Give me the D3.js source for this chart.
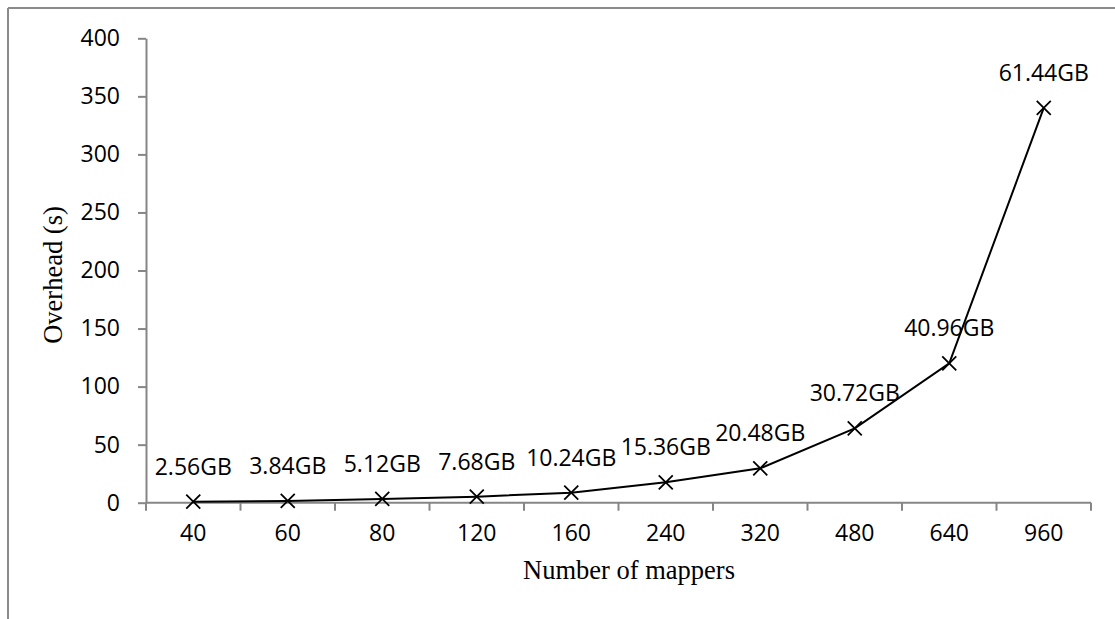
<!DOCTYPE html>
<html>
<head>
<meta charset="utf-8">
<script src="https://cdn.jsdelivr.net/npm/d3@7"></script>
<style>
  body { margin: 0; background: #fff; }
</style>
</head>
<body>
<svg id="chart"></svg>
<script>
const width = 1115;
const height = 619;

// Data
const mappers = ["40", "60", "80", "120", "160", "240", "320", "480", "640", "960"];
const overhead = [0.9, 1.5, 3.2, 5.2, 8.6, 17.6, 29.6, 64, 120, 340];
const dataSize = ["2.56GB", "3.84GB", "5.12GB", "7.68GB", "10.24GB", "15.36GB", "20.48GB", "30.72GB", "40.96GB", "61.44GB"];
const yTicks = [0, 50, 100, 150, 200, 250, 300, 350, 400];

const plot = {left: 146, right: 1091, top: 38.3, bottom: 502.7};
const axisColor = "#868686";
const tickFont = "'Open Sans', sans-serif";
const titleFont = "'Liberation Serif', 'Times New Roman', serif";
const fontSize = "23px";

let svg = d3.select("#chart")
    .attr("width", width)
    .attr("height", height);

// outer frame (only top and left edges show in the picture)
svg.append("line")
    .attr("x1", 8).attr("y1", 8).attr("x2", width).attr("y2", 8)
    .style("stroke", "#8a8a8a").style("stroke-width", 2);
svg.append("line")
    .attr("x1", 8).attr("y1", 8).attr("x2", 8).attr("y2", height)
    .style("stroke", "#8a8a8a").style("stroke-width", 2);

let x = d3.scaleBand()
    .domain(mappers)
    .range([plot.left, plot.right])
    .padding(0);

let y = d3.scaleLinear()
    .domain([0, 400])
    .range([plot.bottom, plot.top]);

// y axis
let yAxis = svg.append("g")
    .attr("transform", `translate(${plot.left},0)`)
    .call(d3.axisLeft(y).tickValues(yTicks).tickSize(8).tickPadding(18).tickSizeOuter(0));
yAxis.select(".domain").style("stroke", axisColor).style("stroke-width", 2);
yAxis.selectAll(".tick line").style("stroke", axisColor).style("stroke-width", 2);
yAxis.selectAll(".tick text")
    .style("font-family", tickFont).style("font-size", fontSize).style("fill", "#000");

// x axis: labels at band centres, ticks at band edges (category style)
let xAxis = svg.append("g")
    .attr("transform", `translate(0,${plot.bottom})`)
    .call(d3.axisBottom(x).tickSize(0).tickPadding(22).tickSizeOuter(0));
xAxis.select(".domain").remove();
xAxis.selectAll(".tick text")
    .style("font-family", tickFont).style("font-size", fontSize).style("fill", "#000");

let edges = mappers.map(d => x(d)).concat([x(mappers[mappers.length - 1]) + x.bandwidth()]);
xAxis.selectAll(".edge")
    .data(edges)
    .enter().append("line")
    .attr("x1", d => d).attr("x2", d => d)
    .attr("y1", 0).attr("y2", 8)
    .style("stroke", axisColor).style("stroke-width", 2);
xAxis.append("line")
    .attr("x1", plot.left).attr("x2", plot.right)
    .attr("y1", 0).attr("y2", 0)
    .style("stroke", axisColor).style("stroke-width", 2);

// series
let points = mappers.map((m, i) => ({m: m, v: overhead[i], label: dataSize[i]}));
let px = d => x(d.m) + x.bandwidth() / 2;

svg.append("path")
    .datum(points)
    .attr("d", d3.line().x(px).y(d => y(d.v)))
    .style("fill", "none")
    .style("stroke", "#000")
    .style("stroke-width", 2);

let s = 7;
svg.selectAll(".marker")
    .data(points)
    .enter().append("path")
    .attr("d", d => `M${px(d) - s},${y(d.v) - s}L${px(d) + s},${y(d.v) + s}M${px(d) - s},${y(d.v) + s}L${px(d) + s},${y(d.v) - s}`)
    .style("stroke", "#000")
    .style("stroke-width", 1.8);

svg.selectAll(".lbl")
    .data(points)
    .enter().append("text")
    .attr("x", px)
    .attr("y", d => y(d.v) - 27)
    .attr("text-anchor", "middle")
    .style("font-family", tickFont)
    .style("font-size", fontSize)
    .text(d => d.label);

// axis titles
svg.append("text")
    .attr("x", 629)
    .attr("y", 579)
    .attr("text-anchor", "middle")
    .style("font-family", titleFont)
    .style("font-size", "26.5px")
    .text("Number of mappers");

svg.append("text")
    .attr("transform", "translate(62,275) rotate(-90)")
    .attr("text-anchor", "middle")
    .style("font-family", titleFont)
    .style("font-size", "26.5px")
    .text("Overhead (s)");
</script>
</body>
</html>
